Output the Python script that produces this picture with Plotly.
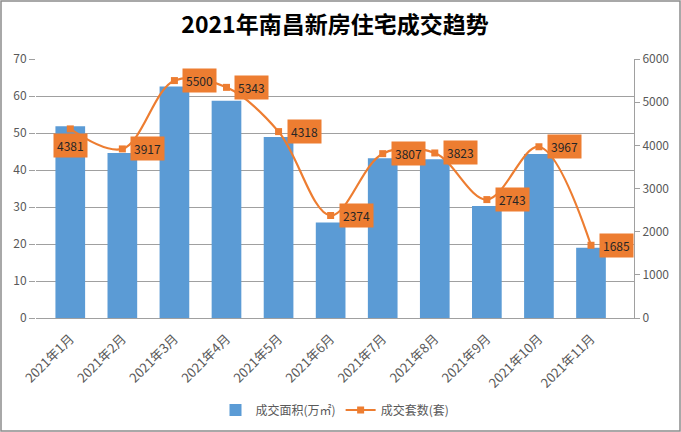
import plotly.graph_objects as go

months = ["2021年1月", "2021年2月", "2021年3月", "2021年4月", "2021年5月", "2021年6月",
          "2021年7月", "2021年8月", "2021年9月", "2021年10月", "2021年11月"]
area = [51.8, 44.6, 62.6, 58.7, 48.9, 25.8, 43.2, 42.9, 30.3, 44.3, 19.0]
units = [4381, 3917, 5500, 5343, 4318, 2374, 3807, 3823, 2743, 3967, 1685]
left_ticks = [0, 10, 20, 30, 40, 50, 60, 70]
right_ticks = [0, 1000, 2000, 3000, 4000, 5000, 6000]

BLUE = "#5B9BD5"
ORANGE = "#ED7D31"
GRID = "#A0A0A0"
TXT = "#595959"
FONT = "Noto Sans CJK SC"

W, H = 681, 432
ML, MR, MT, MB = 36, 47, 59, 114
PW, PH = W - ML - MR, H - MT - MB

fig = go.Figure()
fig.add_trace(go.Bar(x=months, y=area, name="成交面积(万㎡)", marker_color=BLUE,
                     marker_line_width=0, yaxis="y"))
fig.add_trace(go.Scatter(x=months, y=units, name="成交套数(套)", yaxis="y2",
                         mode="lines+markers",
                         line=dict(color=ORANGE, width=2.2, shape="spline", smoothing=1),
                         marker=dict(symbol="square", size=7, color=ORANGE)))

anns = []
for i, (m, v) in enumerate(zip(months, units)):
    if i == 0:
        anns.append(dict(x=m, y=v, xref="x", yref="y2", text=str(v), showarrow=False,
                         xanchor="center", yanchor="top", yshift=-4,
                         bgcolor=ORANGE, borderpad=3,
                         font=dict(family=FONT, size=12, color="#262626")))
    else:
        anns.append(dict(x=m, y=v, xref="x", yref="y2", text=str(v), showarrow=False,
                         xanchor="left", yanchor="middle", xshift=8,
                         bgcolor=ORANGE, borderpad=3,
                         font=dict(family=FONT, size=12, color="#262626")))

fig.update_layout(
    width=W, height=H,
    margin=dict(l=ML, r=MR, t=MT, b=MB, autoexpand=False),
    paper_bgcolor="white", plot_bgcolor="white",
    title=dict(text="<b>2021年南昌新房住宅成交趋势</b>", x=0.5, xref="paper", xanchor="center",
               y=1 - 25 / H, yref="container", yanchor="middle",
               font=dict(family=FONT, size=23, color="#000000")),
    bargap=0.43,
    xaxis=dict(tickangle=-45, tickfont=dict(family=FONT, size=13, color=TXT),
               showline=True, linecolor=GRID, linewidth=1, ticks="", showgrid=False,
               ticklabelstandoff=7, automargin=False, domain=[0, 1]),
    yaxis=dict(range=[0, 70], tickvals=left_ticks, showgrid=True, gridcolor=GRID,
               gridwidth=1, showline=False, ticks="outside", ticklen=6, tickcolor=GRID,
               automargin=False,
               tickfont=dict(family=FONT, size=12, color=TXT), zeroline=False),
    yaxis2=dict(range=[0, 6000], tickvals=right_ticks, overlaying="y", side="right",
                showgrid=False, showline=True, linecolor=GRID, ticks="outside",
                ticklen=5, tickcolor=GRID, zeroline=False, automargin=False,
                tickfont=dict(family=FONT, size=12, color=TXT)),
    legend=dict(orientation="h", x=0.5, xanchor="center", y=(PH - (410 - MT)) / PH * 1.0,
                yanchor="middle", font=dict(family=FONT, size=12, color=TXT),
                itemwidth=30),
    showlegend=True,
    annotations=anns,
    shapes=[dict(type="rect", xref="paper", yref="paper",
                 x0=(-ML + 1) / PW, x1=1 + (MR - 1) / PW,
                 y0=(-MB + 1) / PH, y1=1 + (MT - 1) / PH,
                 line=dict(color="#8C8C8C", width=1.5), fillcolor="rgba(0,0,0,0)")],
)

fig.write_html("out.html")
